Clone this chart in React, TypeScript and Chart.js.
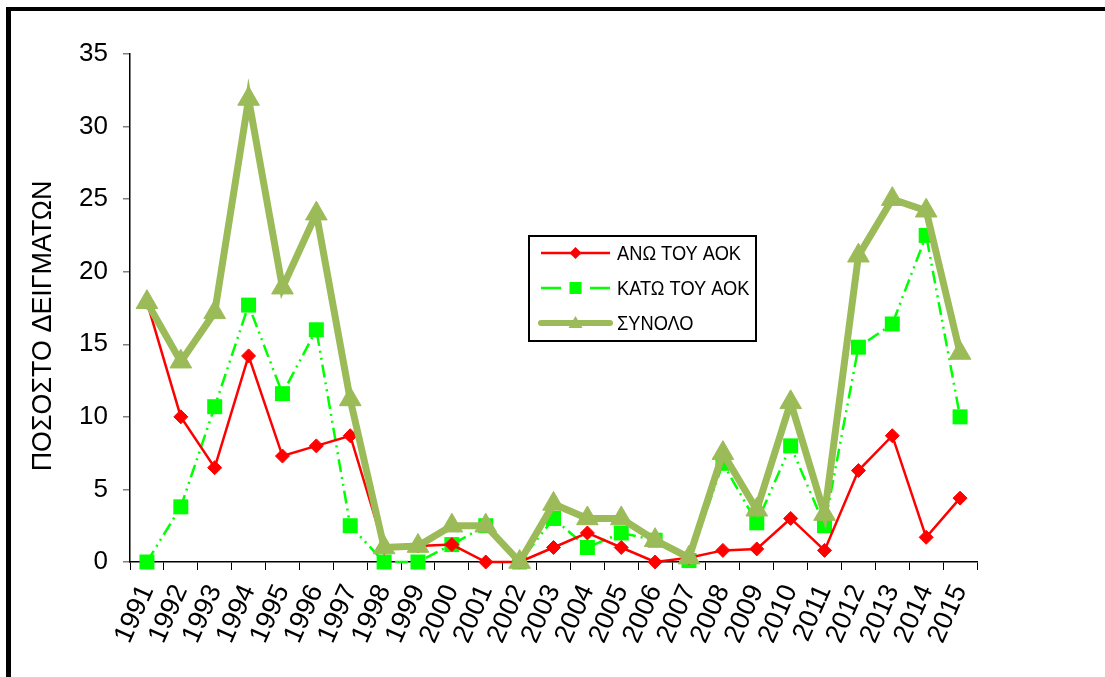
import { useEffect, useRef } from "react";
import { Chart, registerables } from "chart.js";

Chart.register(...registerables);

// Years on the category axis
const years = [
  "1991", "1992", "1993", "1994", "1995", "1996", "1997", "1998", "1999", "2000",
  "2001", "2002", "2003", "2004", "2005", "2006", "2007", "2008", "2009", "2010",
  "2011", "2012", "2013", "2014", "2015",
];

// Percentage of samples above the limit
const aboveValues = [
  17.9, 10.0, 6.5, 14.2, 7.3, 8.0, 8.7, 1.0, 1.1, 1.2,
  0.0, 0.0, 1.0, 2.0, 1.0, 0.0, 0.3, 0.8, 0.9, 3.0,
  0.8, 6.3, 8.7, 1.7, 4.4,
];

// Percentage of samples below the limit
const belowValues = [
  0.0, 3.8, 10.7, 17.7, 11.6, 16.0, 2.5, 0.0, 0.0, 1.2,
  2.5, 0.0, 3.0, 1.0, 2.0, 1.5, 0.1, 6.8, 2.7, 8.0,
  2.5, 14.8, 16.4, 22.5, 10.0,
];

// Total percentage
const totalValues = [
  17.9, 13.8, 17.2, 31.9, 18.9, 24.0, 11.2, 1.0, 1.1, 2.5,
  2.5, 0.0, 4.0, 3.0, 3.0, 1.5, 0.3, 7.5, 3.6, 11.0,
  3.3, 21.1, 25.0, 24.2, 14.4,
];

const seriesNames = ["ΑΝΩ ΤΟΥ ΑΟΚ", "ΚΑΤΩ ΤΟΥ ΑΟΚ", "ΣΥΝΟΛΟ"];
const axisTitle = "ΠΟΣΟΣΤΟ ΔΕΙΓΜΑΤΩΝ";
const yMin = 0;
const yMax = 35;
const yStep = 5;

const FONT = "'Liberation Sans', Arial, sans-serif";
const RED = "#FF0000";
const LIME = "#00FF00";
const OLIVE = "#9BBB59";
const LIME_DASH = [13, 5, 2, 5, 2, 5];

// Vertical axis title, drawn slightly below the plot's middle
const axisTitlePlugin = {
  id: "axisTitle",
  afterDraw(chart: any) {
    const { ctx, chartArea } = chart;
    ctx.save();
    ctx.translate(43, (chartArea.top + chartArea.bottom) / 2 + 18);
    ctx.rotate(-Math.PI / 2);
    ctx.scale(0.96, 1);
    ctx.fillStyle = "#000000";
    ctx.font = `28px ${FONT}`;
    ctx.textAlign = "center";
    ctx.textBaseline = "middle";
    ctx.fillText(axisTitle, 0, 0);
    ctx.restore();
  },
};

// Framed legend box drawn inside the plot area
const legendBoxPlugin = {
  id: "legendBox",
  afterDraw(chart: any) {
    const { ctx, chartArea } = chart;
    const x = chartArea.left + 399;
    const y = chartArea.top + 182;
    const w = 227;
    const h = 105;
    ctx.save();
    ctx.fillStyle = "#ffffff";
    ctx.fillRect(x, y, w, h);
    ctx.lineWidth = 2;
    ctx.strokeStyle = "#000000";
    ctx.strokeRect(x, y, w, h);

    const rows = [y + 17, y + 52, y + 87];
    const lx0 = x + 12;
    const lx1 = x + 81;
    const mx = (lx0 + lx1) / 2;

    // ΑΝΩ
    ctx.strokeStyle = RED;
    ctx.lineWidth = 2.5;
    ctx.beginPath();
    ctx.moveTo(lx0, rows[0]);
    ctx.lineTo(lx1, rows[0]);
    ctx.stroke();
    ctx.fillStyle = RED;
    ctx.beginPath();
    ctx.moveTo(mx, rows[0] - 6);
    ctx.lineTo(mx + 6, rows[0]);
    ctx.lineTo(mx, rows[0] + 6);
    ctx.lineTo(mx - 6, rows[0]);
    ctx.closePath();
    ctx.fill();

    // ΚΑΤΩ
    ctx.strokeStyle = LIME;
    ctx.lineWidth = 2.5;
    ctx.beginPath();
    ctx.moveTo(lx0, rows[1]);
    ctx.lineTo(lx0 + 20, rows[1]);
    ctx.moveTo(lx1 - 20, rows[1]);
    ctx.lineTo(lx1, rows[1]);
    ctx.stroke();
    ctx.fillStyle = LIME;
    ctx.fillRect(mx - 6, rows[1] - 6, 12, 12);

    // ΣΥΝΟΛΟ
    ctx.strokeStyle = OLIVE;
    ctx.lineWidth = 6;
    ctx.lineCap = "round";
    ctx.beginPath();
    ctx.moveTo(lx0, rows[2]);
    ctx.lineTo(lx1, rows[2]);
    ctx.stroke();
    ctx.lineCap = "butt";
    ctx.fillStyle = OLIVE;
    ctx.beginPath();
    ctx.moveTo(mx, rows[2] - 7);
    ctx.lineTo(mx + 7, rows[2] + 5);
    ctx.lineTo(mx - 7, rows[2] + 5);
    ctx.closePath();
    ctx.fill();

    ctx.fillStyle = "#000000";
    ctx.font = `21px ${FONT}`;
    ctx.textBaseline = "middle";
    ctx.textAlign = "left";
    seriesNames.forEach((name, i) => {
      ctx.save();
      ctx.translate(x + 88, rows[i] + 1);
      ctx.scale(0.87, 1);
      ctx.fillText(name, 0, 0);
      ctx.restore();
    });
    ctx.restore();
  },
};

export default function App() {
  const canvasRef = useRef<HTMLCanvasElement | null>(null);

  useEffect(() => {
    const canvas = canvasRef.current;
    if (!canvas) return;
    const chart = new Chart(canvas, {
      type: "line",
      data: {
        labels: years,
        datasets: [
          {
            label: seriesNames[2],
            data: totalValues,
            borderColor: OLIVE,
            backgroundColor: OLIVE,
            borderWidth: 7,
            pointStyle: "triangle",
            pointRadius: 12.5,
            pointBorderWidth: 1,
            pointBackgroundColor: OLIVE,
            pointBorderColor: OLIVE,
            tension: 0,
            clip: false,
            order: 0,
          },
          {
            label: seriesNames[0],
            data: aboveValues,
            borderColor: RED,
            backgroundColor: RED,
            borderWidth: 2.5,
            pointStyle: "rectRot",
            pointRadius: 7,
            pointBorderWidth: 1,
            pointBackgroundColor: RED,
            pointBorderColor: RED,
            tension: 0,
            clip: false,
            order: 1,
          },
          {
            label: seriesNames[1],
            data: belowValues,
            borderColor: LIME,
            backgroundColor: LIME,
            borderWidth: 2.5,
            borderDash: LIME_DASH,
            pointStyle: "rect",
            pointRadius: 10.6,
            pointBorderWidth: 0,
            pointBackgroundColor: LIME,
            pointBorderColor: LIME,
            tension: 0,
            clip: false,
            order: 2,
          },
        ],
      },
      options: {
        responsive: false,
        animation: false,
        devicePixelRatio: 1,
        layout: { padding: { top: 54, right: 128, left: 0, bottom: 0 } },
        plugins: {
          legend: { display: false },
          tooltip: { enabled: false },
        },
        scales: {
          x: {
            type: "category",
            offset: true,
            afterFit: (scale: any) => {
              scale.height = 115;
            },
            grid: {
              display: true,
              offset: true,
              drawOnChartArea: false,
              drawTicks: true,
              tickLength: 8,
              color: "#000000",
              lineWidth: 1,
            },
            border: { display: true, color: "#000000", width: 1.5 },
            ticks: {
              autoSkip: false,
              maxRotation: 66,
              minRotation: 66,
              padding: 10,
              color: "#000000",
              font: { family: FONT, size: 27 },
            },
          },
          y: {
            min: yMin,
            max: yMax,
            afterFit: (scale: any) => {
              scale.width = 130;
            },
            grid: {
              display: true,
              drawOnChartArea: false,
              drawTicks: true,
              tickLength: 7,
              color: "#808080",
              lineWidth: 1.5,
            },
            border: { display: true, color: "#000000", width: 1.5 },
            ticks: {
              stepSize: yStep,
              padding: 15,
              color: "#000000",
              font: { family: FONT, size: 26 },
            },
          },
        },
      },
      plugins: [axisTitlePlugin, legendBoxPlugin],
    });
    return () => chart.destroy();
  }, []);

  return (
    <div
      style={{
        position: "fixed",
        left: 0,
        top: 0,
        width: 1105,
        height: 677,
        overflow: "hidden",
        background: "#ffffff",
      }}
    >
      <div
        style={{
          position: "absolute",
          left: 6,
          top: 7,
          width: 1300,
          height: 900,
          border: "5px solid #000000",
          borderTopWidth: 4,
          boxSizing: "border-box",
        }}
      />
      <canvas
        ref={canvasRef}
        width={1105}
        height={677}
        style={{ position: "absolute", left: 0, top: 0, width: 1105, height: 677 }}
      />
    </div>
  );
}
